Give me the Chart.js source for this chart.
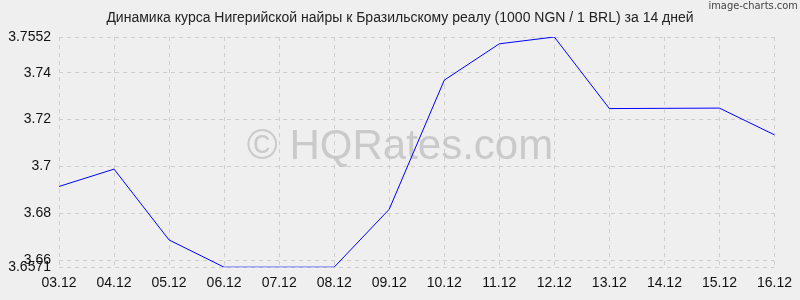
<!DOCTYPE html>
<html>
<head>
<meta charset="utf-8">
<script src="https://cdn.jsdelivr.net/npm/chart.js@4/dist/chart.umd.min.js"></script>
<style>
  html, body { margin: 0; padding: 0; background: #efefef; }
  #wrap { width: 800px; height: 300px; }
</style>
</head>
<body>
<div id="wrap"><canvas id="rateChart"></canvas></div>
<script>
// Данные графика
const labels = ['03.12', '04.12', '05.12', '06.12', '07.12', '08.12', '09.12',
                '10.12', '11.12', '12.12', '13.12', '14.12', '15.12', '16.12'];
const rates = [3.6915, 3.6989, 3.6687, 3.6571, 3.6571, 3.6571, 3.6818,
               3.7368, 3.7523, 3.7552, 3.7247, 3.7248, 3.7249, 3.7135];
const yTicks = [3.6571, 3.66, 3.68, 3.7, 3.72, 3.74, 3.7552];
const yMin = 3.6571;
const yMax = 3.7552;
const titleText = 'Динамика курса Нигерийской найры к Бразильскому реалу (1000 NGN / 1 BRL) за 14 дней';

// Заголовок, водяной знак и подпись
const decor = {
    id: 'decor',
    beforeDatasetsDraw(chart) {
        const c = chart.ctx;
        c.save();
        c.font = '42px "Liberation Sans", Arial, sans-serif';
        c.fillStyle = 'rgba(190,190,190,0.75)';
        c.textAlign = 'center';
        c.textBaseline = 'middle';
        c.fillText('© HQRates.com', 400, 147);
        c.restore();
    },
    afterDraw(chart) {
        const c = chart.ctx;
        c.save();
        c.font = '14px "Liberation Sans", Arial, sans-serif';
        c.fillStyle = '#222';
        c.textAlign = 'center';
        c.textBaseline = 'middle';
        c.fillText(titleText, 400, 18);
        c.font = '11px "DejaVu Sans Condensed", "DejaVu Sans", sans-serif';
        c.fillStyle = '#444';
        c.textAlign = 'right';
        c.textBaseline = 'top';
        c.fillText('image-charts.com', 798, 1);
        c.restore();
    }
};

const ctx = document.getElementById('rateChart').getContext('2d');
const rateChart = new Chart(ctx, {
    type: 'line',
    data: {
        labels: labels,
        datasets: [{
            data: rates,
            borderColor: '#0000ff',
            borderWidth: 1,
            pointRadius: 0,
            tension: 0,
            fill: false
        }]
    },
    options: {
        responsive: true,
        maintainAspectRatio: false,
        animation: false,
        layout: { padding: { left: 0, right: 15, top: 37, bottom: 0 } },
        plugins: {
            legend: { display: false },
            tooltip: { enabled: false },
            title: { display: false }
        },
        scales: {
            x: {
                offset: false,
                grid: { color: '#cfcfcf', drawTicks: false },
                border: { display: false },
                ticks: {
                    color: '#111',
                    font: { family: '"Liberation Sans", Arial, sans-serif', size: 14 },
                    maxRotation: 0,
                    autoSkip: false,
                    padding: 8
                }
            },
            y: {
                min: yMin,
                max: yMax,
                afterBuildTicks(axis) {
                    axis.ticks = yTicks.map(v => ({ value: v }));
                },
                afterFit(axis) { axis.width = 59; },
                grid: { color: '#cfcfcf', drawTicks: false },
                border: { display: false },
                ticks: {
                    color: '#111',
                    font: { family: '"Liberation Sans", Arial, sans-serif', size: 14 },
                    padding: 8,
                    callback: v => String(v)
                }
            }
        }
    },
    plugins: [decor]
});
rateChart.options.scales.x.border.dash = [4, 4];
rateChart.options.scales.y.border.dash = [4, 4];
rateChart.update();
</script>
</body>
</html>
